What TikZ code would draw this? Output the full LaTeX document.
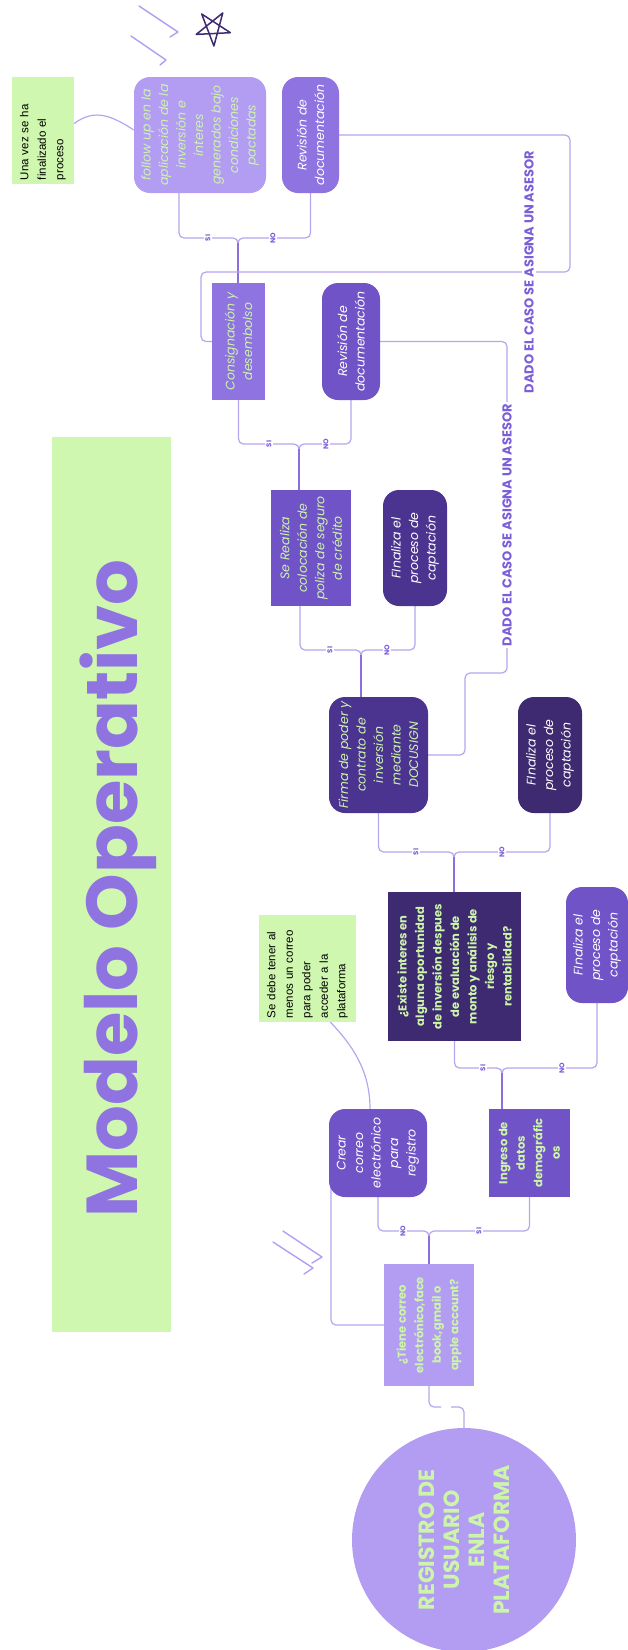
\documentclass[tikz,border=0pt]{standalone}
\usepackage{fontspec}
\setmainfont{Poppins}
\newfontfamily\notefont{Liberation Sans}
\usetikzlibrary{calc}
\definecolor{lav}{HTML}{B39DF2}
\definecolor{mid}{HTML}{8E73E1}
\definecolor{deep}{HTML}{7053C6}
\definecolor{dark}{HTML}{4B3490}
\definecolor{ink}{HTML}{3D2A70}
\definecolor{ntg}{HTML}{D0F7B0}
\definecolor{txg}{HTML}{CDF5A9}
\definecolor{lnkc}{HTML}{B7A4EF}
\definecolor{stemc}{HTML}{8A6FDD}
\definecolor{lblc}{HTML}{7B5ED8}
\pgfdeclarelayer{bg}
\pgfsetlayers{bg,main}
\tikzset{
  rbox/.style  ={rotate=90, rounded corners=16pt, inner sep=2pt, align=center},
  sbox/.style  ={rotate=90, inner sep=2pt, align=center},
  itl/.style   ={font=\itshape\fontsize{12.5}{17.5}\selectfont},
  bld/.style   ={font=\bfseries\fontsize{11.5}{17.5}\selectfont},
  note/.style  ={rotate=90, fill=ntg, inner sep=4pt, align=left, text=black, font=\notefont\fontsize{11.5}{17.5}\selectfont},
  yn/.style    ={rotate=90, fill=white, inner sep=1.5pt, text=lblc, font=\bfseries\fontsize{7}{8}\selectfont},
  asesor/.style={rotate=90, fill=white, inner sep=2pt, text=lblc, font=\bfseries\fontsize{13}{15}\selectfont},
  lnk/.style   ={draw=lnkc, line width=1.2pt, rounded corners=5pt},
  stem/.style  ={draw=stemc, line width=1.2pt},
  tick/.style  ={draw=lav, line width=1.4pt, line cap=round, line join=round},
  starl/.style ={draw=ink, line width=1.5pt, line join=round},
}

\begin{document}
\begin{tikzpicture}[x=1pt, y=-1pt]
  \useasboundingbox (0,0) rectangle (628,1650);

  % title band
  \node[fill=ntg, minimum width=119pt, minimum height=895pt, inner sep=0] (band) at (111.5,884.5) {};
  \node[rotate=90, anchor=base, text=mid, font=\bfseries\fontsize{72}{72}\selectfont] (ttl) at (137,888.5) {Modelo Operativo};

  % top row
  \node[note, minimum width=107pt, minimum height=62pt, text width=99pt] (nt1) at (43,130.5) {Una vez se ha\\ finalizado el\\ proceso};
  \node[rbox, itl, fill=lav, text=txg, minimum width=116pt, minimum height=132pt] (fu) at (200,135) {follow up en la\\ aplicación de la\\ inversión e\\ interes\\ generados bajo\\ condiciones\\ pactadas};
  \node[rbox, itl, fill=mid, text=white, minimum width=116pt, minimum height=57pt] (rv1) at (310.5,135) {Revisión de\\ documentación};

  \node[sbox, itl, fill=mid, text=txg, minimum width=117pt, minimum height=53pt] (cs) at (238.5,341.5) {Consignación y\\ desembolso};
  \node[rbox, itl, fill=deep, text=white, minimum width=117pt, minimum height=58pt] (rv2) at (351,341.5) {Revisión de\\ documentación};

  \node[sbox, itl, fill=deep, text=txg, minimum width=116pt, minimum height=80pt] (pz) at (311,548) {Se Realiza\\ colocación de\\ poliza de seguro\\ de crédito};
  \node[rbox, itl, fill=dark, text=white, minimum width=116pt, minimum height=64pt] (f1) at (415,548) {FInaliza el\\ proceso de\\ captación};

  \node[rbox, itl, fill=dark, text=txg, minimum width=116pt, minimum height=99pt] (fm) at (378.5,755) {Firma de poder y\\ contrato de\\ inversión\\ mediante\\ DOCUSIGN};
  \node[rbox, itl, fill=ink, text=white, minimum width=116pt, minimum height=64pt] (f2) at (550,755) {FInaliza el\\ proceso de\\ captación};

  \node[sbox, bld, fill=ink, text=txg, minimum width=149pt, minimum height=133pt] (qi) at (454.5,966.5) {¿Existe interes en\\ alguna oportunidad\\ de inversión despues\\ de evaluación de\\ monto y análisis de\\ riesgo y\\ rentabilidad?};
  \node[note, minimum width=107pt, minimum height=97pt, text width=99pt] (nt2) at (307.5,968.5) {Se debe tener al\\ menos un correo\\ para poder\\ acceder a la\\ plataforma};
  \node[rbox, itl, fill=deep, text=white, minimum width=116pt, minimum height=62pt] (f3) at (597,945) {FInaliza el\\ proceso de\\ captación};

  \node[rbox, itl, fill=deep, text=white, minimum width=88pt, minimum height=98pt] (cr) at (378,1153) {Crear\\ correo\\ electrónico\\ para\\ registro};
  \node[sbox, bld, fill=deep, text=txg, minimum width=88pt, minimum height=81pt] (dg) at (529.5,1153) {Ingreso de\\ datos\\ demográfic\\ os};

  \node[sbox, bld, fill=lav, text=txg, minimum width=122pt, minimum height=90pt] (qt) at (429,1325) {¿Tiene correo\\ electrónico,face\\ book,gmail o\\ apple account?};
  \node[circle, rotate=90, fill=lav, text=txg, align=center, minimum size=224pt, inner sep=0pt, font=\bfseries\fontsize{22}{25}\selectfont] (rg) at (464,1540) {REGISTRO DE\\ USUARIO\\ ENLA\\ PLATAFORMA};

  % connectors
  \begin{pgfonlayer}{bg}
    \coordinate (j1) at (238,238);
    \draw[lnk] ($(fu.west)+(-21,0)$) |- (j1) -- (j1 |- cs.east);
    \draw[lnk] (rv1.west) |- (j1) -- (j1 |- cs.east);
    \draw[stem] ($(j1)+(0,5)$) -- (j1 |- cs.east);

    \coordinate (j2) at (299,444);
    \draw[lnk] (cs.west) |- (j2) -- (j2 |- pz.east);
    \draw[lnk] (rv2.west) |- (j2) -- (j2 |- pz.east);
    \draw[stem] ($(j2)+(0,5)$) -- (j2 |- pz.east);

    \coordinate (j3) at (361,650);
    \draw[lnk] ($(pz.west)+(-11,0)$) |- (j3) -- (j3 |- fm.east);
    \draw[lnk] (f1.west) |- (j3) -- (j3 |- fm.east);
    \draw[stem] ($(j3)+(0,5)$) -- (j3 |- fm.east);

    \coordinate (j4) at (454,852);
    \draw[lnk] (fm.west) |- (j4) -- (j4 |- qi.east);
    \draw[lnk] (f2.west) |- (j4) -- (j4 |- qi.east);
    \draw[stem] ($(j4)+(0,5)$) -- (j4 |- qi.east);

    \coordinate (j5) at (502,1068);
    \draw[lnk] (qi.west) |- (j5) -- (j5 |- dg.east);
    \draw[lnk] (f3.west) |- (j5) -- (j5 |- dg.east);
    \draw[stem] ($(j5)+(0,5)$) -- (j5 |- dg.east);

    \coordinate (j6) at (429,1231);
    \draw[lnk] (cr.west) |- (j6) -- (j6 |- qt.east);
    \draw[lnk] (dg.west) |- (j6) -- (j6 |- qt.east);
    \draw[stem] ($(j6)+(0,5)$) -- (j6 |- qt.east);

    % asesor loops
    \coordinate (k1) at (570,272); \coordinate (k2) at (201,272);
    \draw[lnk] (rv1.south) -| (k1) -- (k2) |- (cs.north);
    \coordinate (k3) at (507,673); \coordinate (k4) at (465,673);
    \draw[lnk] (rv2.south) -| (k3) -- (k4) |- (fm.south);

    % notes
    \draw[lnk] ($(nt1.south)+(0,-7)$) .. controls (95,108) and (112,116) .. ($(fu.north)+(0,-5)$);
    \draw[lnk] ($(nt2.west)+(23,0)$) .. controls (352,1045) and (370,1070) .. ($(cr.east)+(-8,0)$);

    % lower part
    \draw[lnk] ($(cr.west)+(-47,-10)$) |- (qt.north);
    \coordinate (g1) at (441,1407); \coordinate (g2) at (451,1407);
    \draw[lnk] (qt.west) |- (g1);
    \draw[lnk] (g2) -| (rg.east);
  \end{pgfonlayer}

  % si / no
  \node[yn] (s1) at (208,238) {SI};  \node[yn] (n1) at (273,238) {NO};
  \node[yn] (s2) at (269,444) {SI};  \node[yn] (n2) at (326,444) {NO};
  \node[yn] (s3) at (330,650) {SI};  \node[yn] (n3) at (387,650) {NO};
  \node[yn] (s4) at (416,852) {SI};  \node[yn] (n4) at (502,852) {NO};
  \node[yn] (s5) at (483,1068) {SI}; \node[yn] (n5) at (562,1068) {NO};
  \node[yn] (n6) at (403,1231) {NO}; \node[yn] (s6) at (479,1231) {SI};

  \node[asesor] (as1) at (529,272) {DADO EL CASO SE ASIGNA UN ASESOR};
  \node[asesor] (as2) at (507,525) {DADO EL CASO SE ASIGNA UN ASESOR};

  % marks
  \draw[tick] (139,6) -- (178,32) -- (170,37);
  \draw[tick] (131,36) -- (166,60) -- (160,65);
  \draw[tick] (283,1231) -- (322,1257) -- (312,1263);
  \draw[tick] (273,1242) -- (313,1268) -- (304,1274);
  \draw[starl] (201.7,14.0) -- (230.4,32.7) -- (196.2,34.4) -- (222.8,12.9) -- (213.9,46.0) -- cycle;
\end{tikzpicture}
\end{document}
